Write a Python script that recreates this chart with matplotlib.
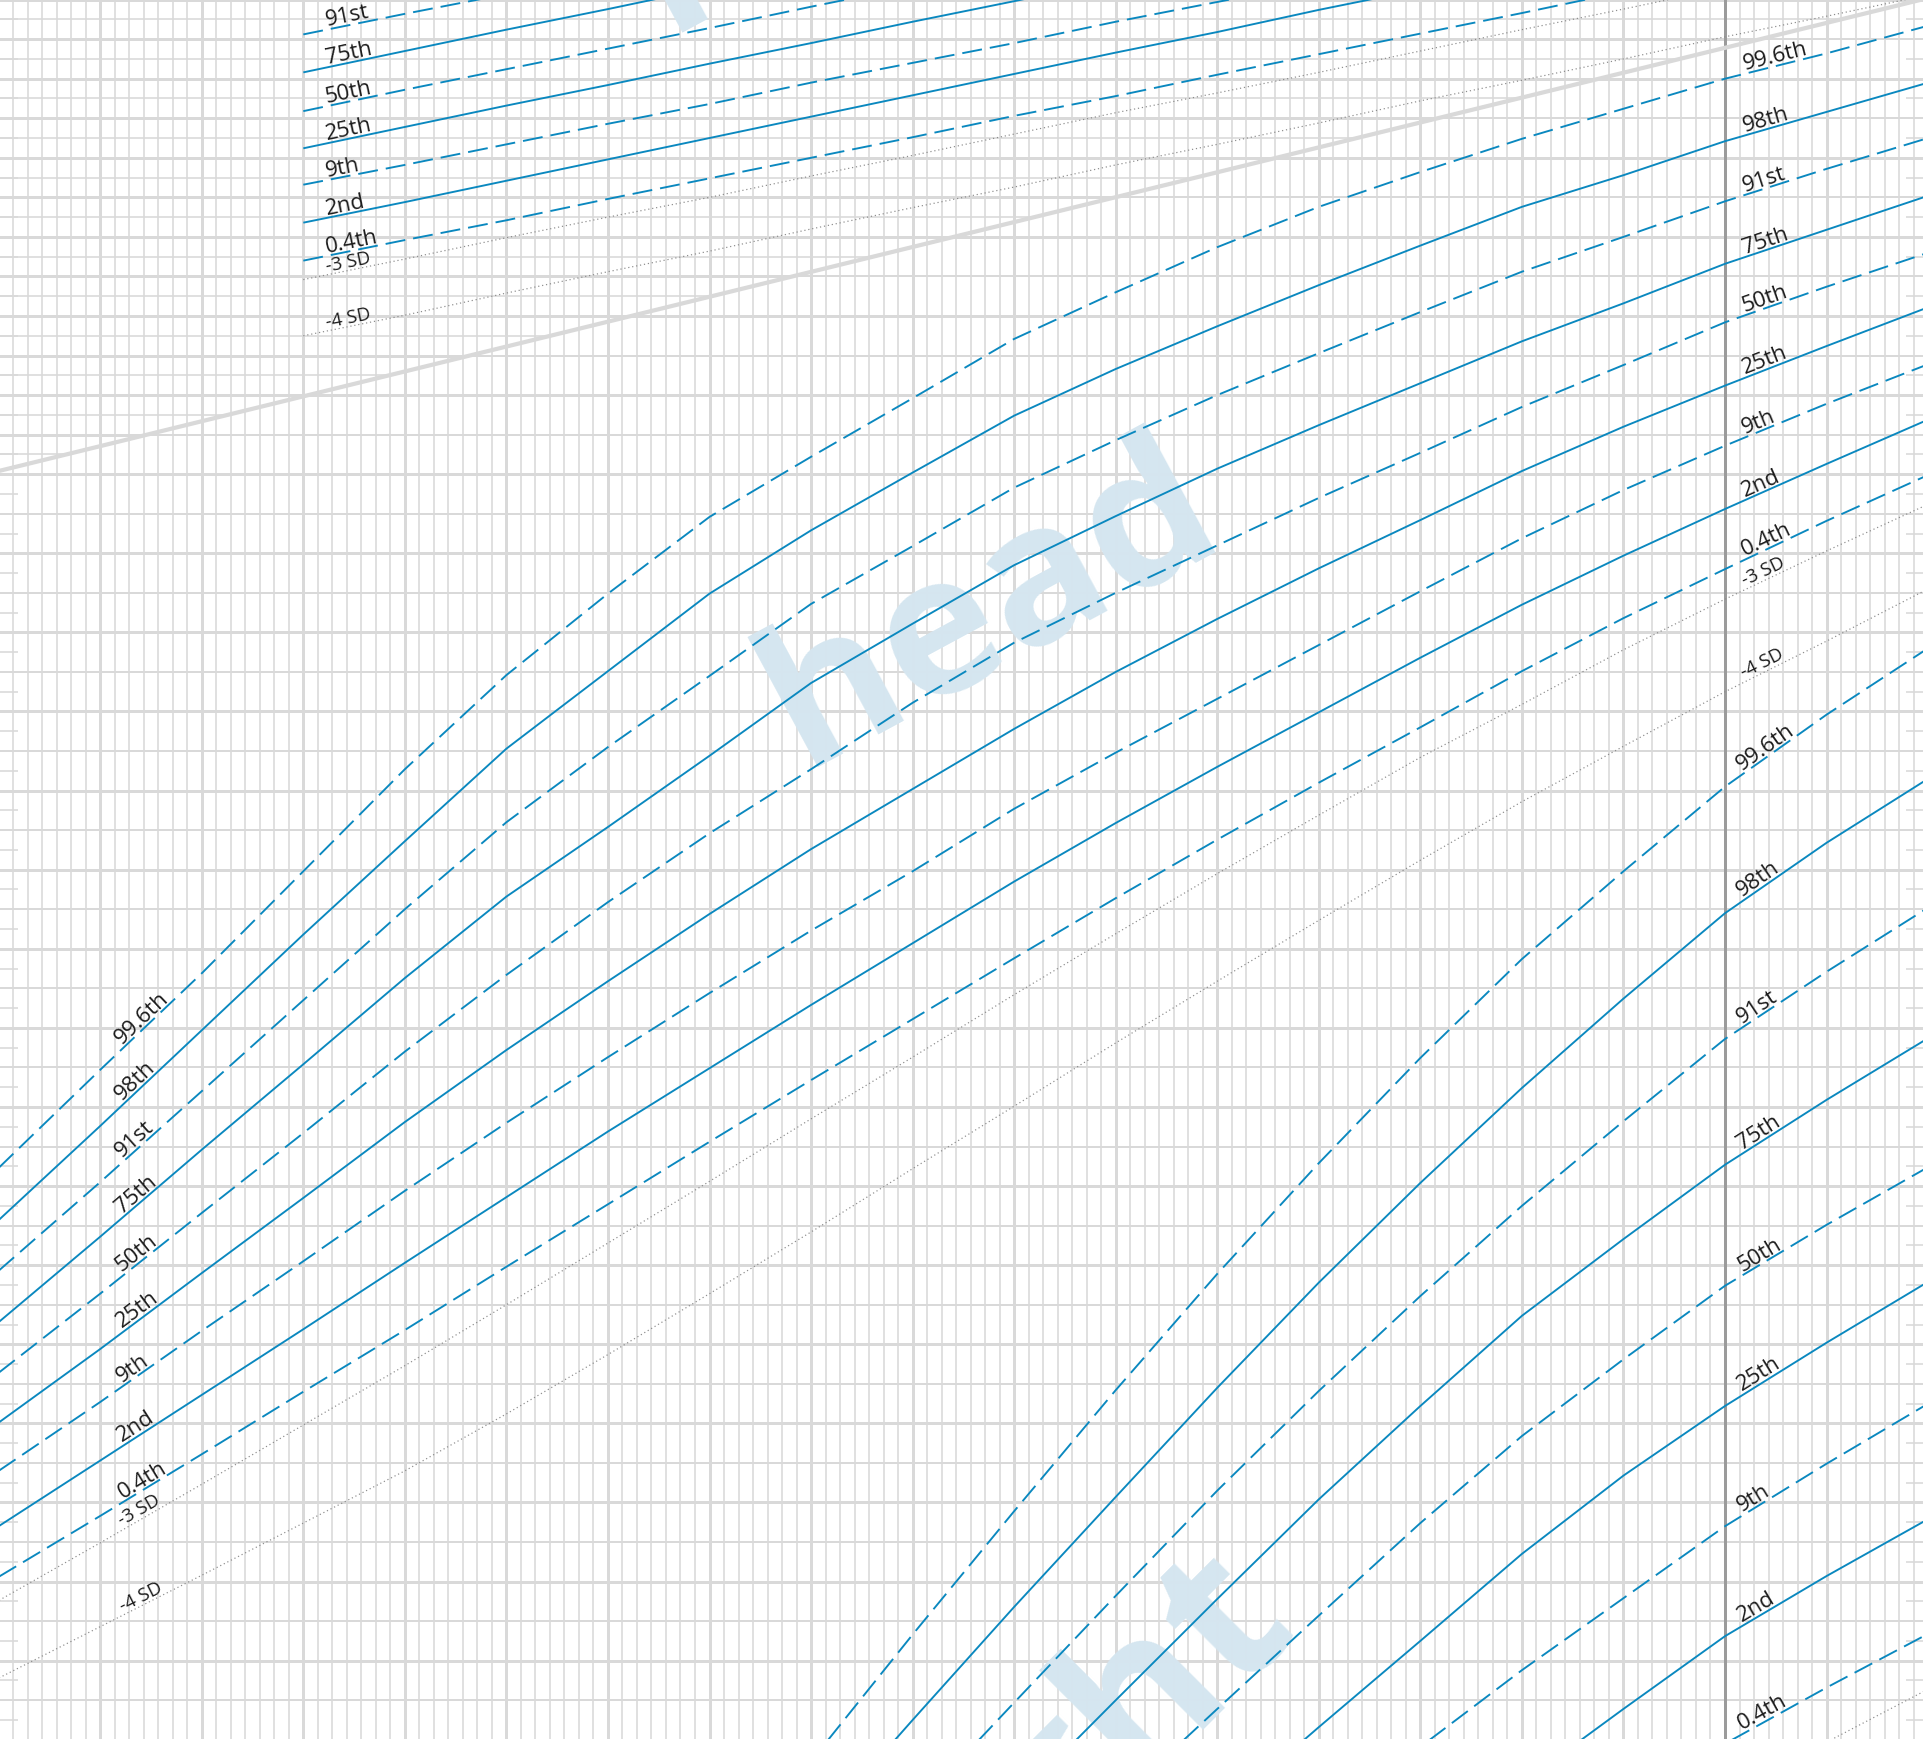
import numpy as np
import matplotlib
matplotlib.use("Agg")
import matplotlib.pyplot as plt
from matplotlib.patches import Polygon
from matplotlib import transforms

plt.rcParams['font.family'] = ['Open Sans', 'DejaVu Sans']
plt.rcParams['lines.scale_dashes'] = False

# ---------------- data (x: gestational weeks, y: chart grid units, cm) ----------------
weeks = list(range(23, 43))

# head circumference centiles (weeks 23..42)
head_p996 = [24.23, 25.47, 26.69, 27.98, 29.27, 30.46, 31.49, 32.46, 33.22, 33.96,
             34.71, 35.30, 35.87, 36.38, 36.82, 37.24, 37.62, 38.00, 38.32, 38.67]
head_p98 = [23.57, 24.76, 25.97, 27.18, 28.36, 29.53, 30.51, 31.49, 32.29, 33.02,
            33.74, 34.33, 34.87, 35.39, 35.89, 36.38, 36.78, 37.21, 37.58, 37.95]
head_p91 = [22.93, 24.05, 25.20, 26.35, 27.50, 28.60, 29.55, 30.45, 31.36, 32.09,
            32.83, 33.43, 34.00, 34.53, 35.05, 35.56, 36.00, 36.45, 36.86, 37.25]
head_p75 = [22.28, 23.36, 24.46, 25.54, 26.63, 27.66, 28.54, 29.44, 30.36, 31.11,
            31.85, 32.47, 33.07, 33.62, 34.15, 34.68, 35.16, 35.66, 36.09, 36.52]
head_p50 = [21.64, 22.64, 23.66, 24.67, 25.70, 26.67, 27.59, 28.46, 29.27, 30.11,
            30.87, 31.50, 32.10, 32.70, 33.27, 33.85, 34.38, 34.92, 35.37, 35.80]
head_p25 = [21.01, 21.94, 22.90, 23.85, 24.81, 25.72, 26.59, 27.44, 28.26, 29.02,
            29.78, 30.50, 31.17, 31.81, 32.42, 33.04, 33.60, 34.12, 34.62, 35.11]
head_p9 = [20.40, 21.27, 22.17, 23.05, 23.94, 24.80, 25.63, 26.44, 27.23, 27.98,
           28.77, 29.48, 30.16, 30.84, 31.52, 32.19, 32.80, 33.36, 33.89, 34.39]
head_p2 = [19.70, 20.53, 21.36, 22.19, 23.03, 23.86, 24.69, 25.49, 26.29, 27.07,
           27.85, 28.59, 29.30, 29.99, 30.68, 31.35, 31.97, 32.56, 33.13, 33.69]
head_p04 = [19.06, 19.83, 20.61, 21.40, 22.18, 22.98, 23.77, 24.56, 25.34, 26.11,
            26.88, 27.64, 28.38, 29.10, 29.80, 30.51, 31.18, 31.80, 32.41, 32.99]
head_m3sd = [18.76, 19.49, 20.23, 20.98, 21.73, 22.50, 23.28, 24.06, 24.85, 25.63,
             26.42, 27.19, 27.95, 28.69, 29.42, 30.09, 30.78, 31.42, 32.03, 32.62]
head_m4sd = [17.78, 18.43, 19.08, 19.74, 20.40, 21.12, 21.87, 22.64, 23.42, 24.22,
             25.01, 25.81, 26.59, 27.36, 28.12, 28.86, 29.56, 30.25, 30.89, 31.55]

# weight centiles (plotted on the same grid), each from its own first week to 42
weight_p996 = [16.73, 18.33, 19.89, 21.42, 22.89, 24.29, 25.62, 26.87, 27.98, 29.05, 29.96, 30.80]  # from 31
weight_p98 = [15.80, 17.25, 18.68, 20.07, 21.45, 22.78, 24.04, 25.24, 26.37, 27.45, 28.34, 29.15]   # from 31
weight_p91 = [16.11, 17.47, 18.82, 20.15, 21.41, 22.61, 23.75, 24.82, 25.86, 26.71, 27.52]          # from 32
weight_p75 = [16.21, 17.50, 18.78, 20.04, 21.22, 22.36, 23.33, 24.27, 25.09, 25.87]                 # from 33
weight_p50 = [16.20, 17.39, 18.57, 19.74, 20.84, 21.81, 22.74, 23.51, 24.24]                        # from 34
weight_p25 = [16.05, 17.16, 18.25, 19.35, 20.34, 21.22, 22.02, 22.79]                               # from 35
weight_p9 = [16.91, 17.88, 18.79, 19.70, 20.49, 21.25]                                               # from 37
weight_p2 = [16.45, 17.39, 18.31, 19.07, 19.79]                                                      # from 38
weight_p04 = [16.11, 16.95, 17.66, 18.34]                                                            # from 39
weight_m3sd = [16.26, 16.97, 17.64]                                                                  # from 40
weight_start = [31, 31, 32, 33, 34, 35, 37, 38, 39, 40]

# length centiles (upper chart), each from week 26
length_p91 = [38.56, 38.82, 39.07]
length_p75 = [38.08, 38.35, 38.62, 38.88, 39.15]
length_p50 = [37.59, 37.86, 38.12, 38.38, 38.64, 38.91, 39.17]
length_p25 = [37.12, 37.39, 37.66, 37.92, 38.19, 38.45, 38.72, 38.98, 39.25]
length_p9 = [36.66, 36.91, 37.17, 37.43, 37.68, 37.95, 38.20, 38.45, 38.72, 38.97, 39.22]
length_p2 = [36.18, 36.44, 36.71, 36.98, 37.25, 37.52, 37.79, 38.06, 38.33, 38.59, 38.87, 39.13]
length_p04 = [35.70, 35.96, 36.21, 36.48, 36.74, 37.00, 37.26, 37.53, 37.78, 38.05, 38.31, 38.57,
              38.83, 39.10]
length_m3sd = [35.46, 35.72, 35.99, 36.25, 36.50, 36.77, 37.03, 37.30, 37.57, 37.82, 38.08, 38.35,
               38.62, 38.88, 39.15]
length_m4sd = [34.75, 35.01, 35.29, 35.56, 35.82, 36.10, 36.37, 36.63, 36.91, 37.17, 37.44, 37.72,
               37.98, 38.25, 38.53, 38.79, 39.06]
length_start = 26

# boundary between the length chart and the head/weight chart
boundary_weeks = [23, 42]
boundary_cm = [33.04, 39.02]

term_week = 40

centile_names = ["99.6th", "98th", "91st", "75th", "50th", "25th", "9th", "2nd", "0.4th", "-3 SD", "-4 SD"]
centile_styles = ["dash", "solid", "dash", "solid", "dash", "solid", "dash", "solid", "dash", "dot", "dot"]

# ---------------- styling ----------------
BLUE = '#0a88bf'
GRID = '#d9d9d9'
TXT = '#1c1c1c'
WM = '#d5e6f0'
PX = 0.72  # points per pixel at dpi 100

fig = plt.figure(figsize=(19.24, 17.40), dpi=100)
ax = fig.add_axes([0, 0, 1, 1])
ax.set_xlim(23.0133, 41.9596)
ax.set_ylim(17.010, 39.0076)
ax.set_axis_off()

# clip region above the boundary
bslope = (boundary_cm[1] - boundary_cm[0]) / (boundary_weeks[1] - boundary_weeks[0])
def bnd(w):
    return boundary_cm[0] + bslope * (w - boundary_weeks[0])
upper = Polygon([(22, bnd(22)), (43, bnd(43)), (43, 41), (22, 41)], closed=True,
                transform=ax.transData, facecolor='none', edgecolor='none')

# vertical grid
minor_x = [w + k / 7 for w in range(22, 43) for k in range(1, 7)]
ax.vlines(minor_x, 16, 40, color=GRID, lw=1.6 * PX, zorder=1)
ax.vlines([w for w in range(22, 44) if w != term_week], 16, 40, color=GRID, lw=3.0 * PX, zorder=1.05)
ax.vlines([term_week], 16, 40, color='#9b9b9b', lw=3.0 * PX, zorder=1.1)

# horizontal grid
ints = np.arange(16, 41)
halves = ints + 0.5
quarters = np.concatenate([ints + 0.25, ints + 0.75])
ax.hlines(halves, 22, 43, color=GRID, lw=2.0 * PX, zorder=1.02)
ax.hlines(ints, 22, 43, color=GRID, lw=3.0 * PX, zorder=1.03)
hq = ax.hlines(quarters, 22, 43, color=GRID, lw=1.6 * PX, zorder=1.01)
hq.set_clip_path(upper)
hh = ax.hlines(halves, 22, 43, color=GRID, lw=3.0 * PX, zorder=1.03)
hh.set_clip_path(upper)
# edge ticks
ax.hlines(quarters, 23.0, 23.19, color=GRID, lw=1.6 * PX, zorder=1.01)
ax.hlines(quarters, 41.78, 42.0, color=GRID, lw=1.6 * PX, zorder=1.01)

# boundary line
ax.plot(boundary_weeks, boundary_cm, color=GRID, lw=4.2 * PX, solid_capstyle='butt', zorder=1.2)

# watermarks
ax.text(33.01, 30.76, "head", rotation=28.4, rotation_mode='anchor', ha='center', va='baseline',
        fontsize=140, fontweight='bold', color=WM, zorder=1.5)
ax.text(35.82, 18.40, "weight", rotation=45, rotation_mode='anchor', ha='right', va='baseline',
        fontsize=150, fontweight='bold', color=WM, zorder=1.5)
ax.text(29.59, 38.60, "length", rotation=28.4, rotation_mode='anchor', ha='left', va='baseline',
        fontsize=140, fontweight='bold', color=WM, zorder=1.5)


def draw_curve(xs, ys, style):
    if style == 'solid':
        ax.plot(xs, ys, color=BLUE, lw=1.9 * PX, solid_capstyle='butt', zorder=3)
    elif style == 'dash':
        ax.plot(xs, ys, color=BLUE, lw=1.9 * PX, dashes=(20 * PX, 8 * PX), dash_capstyle='butt', zorder=3)
    else:
        ax.plot(xs, ys, color='#8c8c8c', lw=1.2 * PX, dashes=(1.2 * PX, 2.8 * PX), zorder=3)


def draw_label(xs, ys, x0, text, size):
    y0 = np.interp(x0, xs, ys)
    p1 = ax.transData.transform((x0, y0))
    x1 = x0 + 0.4
    p2 = ax.transData.transform((x1, np.interp(x1, xs, ys)))
    ang = np.degrees(np.arctan2(p2[1] - p1[1], p2[0] - p1[0]))
    d = 3.0
    tr = transforms.offset_copy(ax.transData, fig=fig, x=-np.sin(np.radians(ang)) * d,
                                y=np.cos(np.radians(ang)) * d, units='points')
    ax.text(x0, y0, text, transform=tr, rotation=ang, rotation_mode='anchor', ha='left',
            va='baseline', fontsize=size, color=TXT, zorder=4)


LBL = 16
SDL = 13.5

# head curves
head_series = [head_p996, head_p98, head_p91, head_p75, head_p50, head_p25, head_p9, head_p2,
               head_p04, head_m3sd, head_m4sd]
for name, style, ys in zip(centile_names, centile_styles, head_series):
    draw_curve(weeks, ys, style)
    size = SDL if 'SD' in name else LBL
    draw_label(weeks, ys, 24.24, name, size)
    draw_label(weeks, ys, 40.21, name, size)

# weight curves
weight_series = [weight_p996, weight_p98, weight_p91, weight_p75, weight_p50, weight_p25,
                 weight_p9, weight_p2, weight_p04, weight_m3sd]
for name, style, ys, s in zip(centile_names, centile_styles, weight_series, weight_start):
    xs = list(range(s, s + len(ys)))
    draw_curve(xs, ys, style)
    if 'SD' not in name:
        draw_label(xs, ys, 40.19, name, LBL)

# length curves
length_series = [length_p91, length_p75, length_p50, length_p25, length_p9, length_p2,
                 length_p04, length_m3sd, length_m4sd]
for name, style, ys in zip(centile_names[2:], centile_styles[2:], length_series):
    xs = list(range(length_start, length_start + len(ys)))
    draw_curve(xs, ys, style)
    size = SDL if 'SD' in name else LBL
    draw_label(xs, ys, 26.24, name, size)

fig.savefig("out.png", dpi=100)
